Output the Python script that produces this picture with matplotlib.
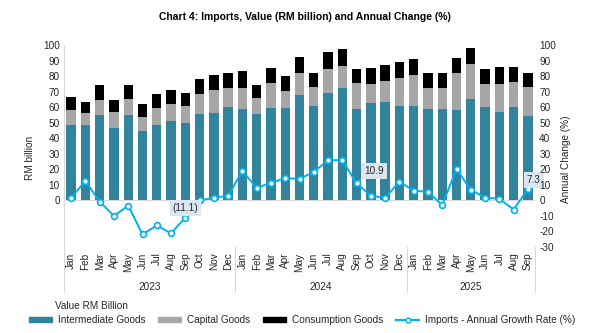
import matplotlib
matplotlib.use("Agg")
import matplotlib.pyplot as plt
import matplotlib.transforms as mtransforms
from matplotlib.patches import Patch
from matplotlib.lines import Line2D
import numpy as np

plt.rcParams['font.family'] = ['Liberation Sans', 'DejaVu Sans']
plt.rcParams['axes.unicode_minus'] = False

months = ["Jan", "Feb", "Mar", "Apr", "May", "Jun", "Jul", "Aug", "Sep", "Oct", "Nov", "Dec",
          "Jan", "Feb", "Mar", "Apr", "May", "Jun", "Jul", "Aug", "Sep", "Oct", "Nov", "Dec",
          "Jan", "Feb", "Mar", "Apr", "May", "Jun", "Jul", "Aug", "Sep"]
years = ["2023", "2024", "2025"]
year_counts = [12, 12, 9]

intermediate = [48.2, 48.6, 55.2, 46.9, 55.2, 44.4, 48.8, 51.4, 49.5, 55.8, 56.5, 60.3,
                59.0, 55.8, 59.7, 59.7, 67.9, 60.9, 69.2, 72.4, 59.0, 62.8, 63.5, 60.9,
                60.9, 59.0, 59.0, 58.4, 65.4, 60.3, 57.1, 60.3, 54.6]
capital = [10.2, 7.9, 9.6, 10.2, 10.2, 9.5, 10.9, 10.8, 11.4, 12.8, 14.6, 12.1,
           13.4, 10.2, 15.9, 10.8, 14.1, 12.1, 15.3, 14.0, 16.6, 12.1, 13.4, 17.9,
           19.8, 13.4, 13.4, 23.6, 22.3, 14.6, 17.8, 15.9, 18.4]
consumption = [8.3, 7.0, 9.5, 7.7, 8.9, 8.3, 8.9, 8.9, 8.3, 9.5, 9.6, 9.6,
               10.8, 8.3, 9.5, 9.5, 10.1, 9.0, 10.8, 10.8, 8.9, 10.2, 10.1, 10.2,
               10.2, 9.6, 9.6, 9.5, 10.2, 9.6, 10.9, 9.6, 9.0]
growth = [1.7, 12.5, -0.8, -10.0, -3.4, -21.9, -16.1, -21.2, -11.1, 0.0, 1.7, 3.0,
          18.9, 8.1, 11.3, 14.4, 13.8, 18.3, 25.9, 25.9, 10.9, 3.0, 1.7, 12.1,
          6.2, 5.5, -3.0, 20.2, 6.8, 1.7, 1.1, -5.9, 7.3]

# labelled points: (index, label, text offset dx, dy in data units, leader line)
labels = [(8, "(11.1)", 0.0, 6.0, False), (20, "10.9", 1.2, 8.2, True), (32, "7.3", 0.4, 6.1, False)]

c_int = "#31849B"
c_cap = "#A6A6A6"
c_con = "#000000"
c_line = "#00B0F0"
grid_c = "#D9D9D9"
txt_c = "#262626"

fig = plt.figure(figsize=(6.10, 3.33), dpi=100)
ax = fig.add_axes([64/610, (333-247)/333, (535-64)/610, (247-45)/333])
x = np.arange(len(months))
inter = np.array(intermediate)
cap = np.array(capital)
con = np.array(consumption)

w = 0.66
ax.bar(x, inter, w, color=c_int, zorder=2)
ax.bar(x, cap, w, bottom=inter, color=c_cap, zorder=2)
ax.bar(x, con, w, bottom=inter + cap, color=c_con, zorder=2)
ax.axhline(0, color=grid_c, lw=0.8, zorder=1)
ax.plot(x, growth, color=c_line, lw=1.4, marker='o', ms=4.2, mfc='white',
        mec=c_line, mew=1.2, zorder=4)

ax.set_xlim(-0.5, len(months) - 0.5)
ax.set_ylim(-30, 100)
ax.set_yticks(np.arange(0, 101, 10))
ax.tick_params(axis='y', length=0, labelsize=7.2, colors=txt_c, pad=3)
ax.set_xticks(x)
ax.set_xticklabels(months, rotation=90, fontsize=7.2, color=txt_c, va='top')
ax.tick_params(axis='x', length=0, pad=4)
for s in ['top', 'right', 'bottom']:
    ax.spines[s].set_visible(False)
ax.spines['left'].set_color(grid_c)
ax.spines['left'].set_linewidth(0.8)

ax2 = ax.twinx()
ax2.set_ylim(-30, 100)
ax2.set_yticks(np.arange(-30, 101, 10))
ax2.tick_params(axis='y', length=0, labelsize=7.2, colors=txt_c, pad=3)
for s in ax2.spines.values():
    s.set_visible(False)

# year grouping
trans = mtransforms.blended_transform_factory(ax.transData, ax.transAxes)
start = -0.5
bounds = [start]
for cnt, yr in zip(year_counts, years):
    end = start + cnt
    ax.text((start + end) / 2, -0.198, yr, transform=trans, ha='center', va='center',
            fontsize=7.2, color=txt_c)
    bounds.append(end)
    start = end
for b in bounds:
    ax.plot([b, b], [0, -0.223], transform=trans, color=grid_c, lw=0.8, clip_on=False)

# annotations
for idx, lab, dx, dy, leader in labels:
    tx, ty = idx + dx, growth[idx] + dy
    ax.annotate(lab, xy=(idx, growth[idx]), xytext=(tx, ty), ha='center', va='center',
                fontsize=7.2, color=txt_c, annotation_clip=False, zorder=5,
                bbox=dict(boxstyle='square,pad=0.3', fc='#DCE6F2', ec='none'),
                arrowprops=(dict(arrowstyle='-', color='#A6A6A6', lw=0.6, shrinkA=0, shrinkB=2,
                                 relpos=(0.0, 0.0)) if leader else None))

fig.text(0.5, 1 - 17/333, "Chart 4: Imports, Value (RM billion) and Annual Change (%)",
         ha='center', va='center', fontsize=7.5, fontweight='bold', color='black')
fig.text(30/610, 1 - 158/333, "RM billion", rotation=90, ha='center', va='center',
         fontsize=7.2, color=txt_c)
fig.text(566/610, 1 - 159/333, "Annual Change (%)", rotation=90, ha='center', va='center',
         fontsize=7.2, color=txt_c)

fig.text(55/610, 1 - 306/333, "Value RM Billion", ha='left', va='center', fontsize=7.2, color=txt_c)
handles = [Patch(color=c_int), Patch(color=c_cap), Patch(color=c_con),
           Line2D([], [], color=c_line, lw=1.6, marker='o', ms=3.5, mfc='white', mec=c_line, mew=1.0)]
names = ["Intermediate Goods", "Capital Goods", "Consumption Goods", "Imports - Annual Growth Rate (%)"]
fig.legend(handles, names, loc='center', bbox_to_anchor=(302/610, 1 - 320/333), ncol=4,
           frameon=False, fontsize=7.2, handlelength=2.3, handleheight=0.5, handletextpad=0.6,
           columnspacing=1.3, labelcolor=txt_c)

fig.savefig("out.png", dpi=100, facecolor='white')
